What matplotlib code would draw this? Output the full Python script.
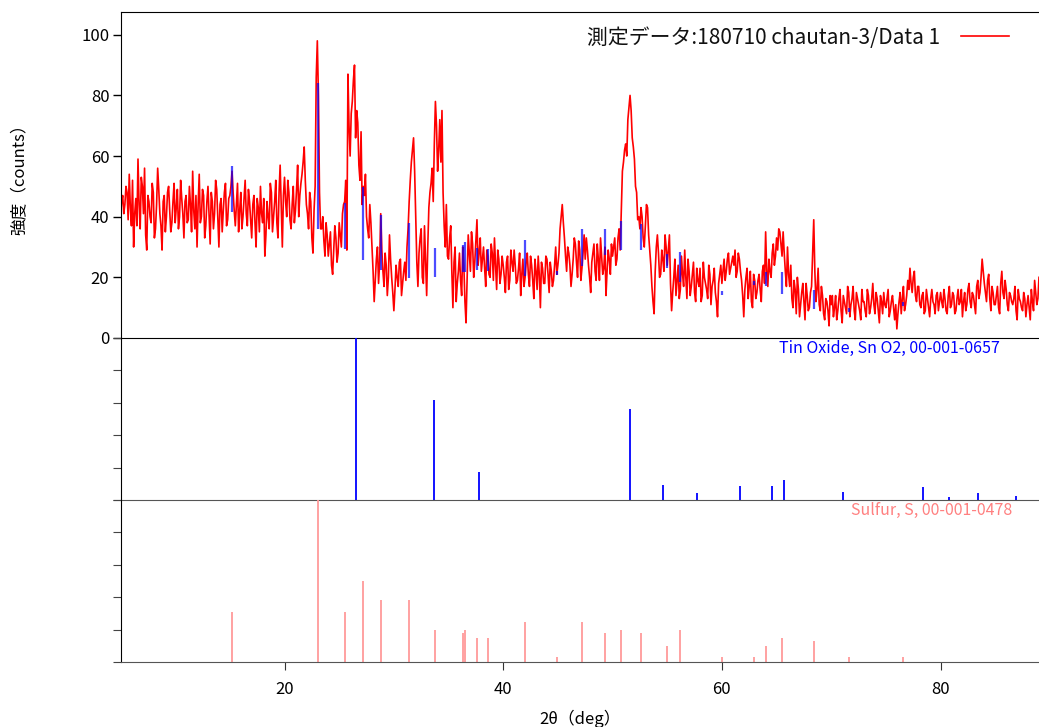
import numpy as np
import matplotlib
matplotlib.use("Agg")
import matplotlib.pyplot as plt

plt.rcParams['font.family'] = ['Noto Sans CJK JP', 'DejaVu Sans']

# ---------------- data ----------------
two_theta_start = 5.0
two_theta_step = 0.1

# intensities at 5.0, 5.2, 5.4, ... 89.0
intensity_even = (
    [40, 47, 44, 48, 54, 37, 30, 46, 59, 36, 50, 56, 29, 45, 38, 48, 36, 56, 41, 29, 47, 40, 50, 35, 45] +
    [38, 49, 40, 46, 33, 47, 39, 44, 55, 36, 30, 54, 40, 47, 37, 50, 31, 45, 41, 49, 30, 46, 42, 51, 39] +
    [47, 55, 42, 44, 35, 48, 40, 52, 37, 45, 33, 47, 30, 43, 50, 38, 27, 45, 36, 48, 40, 52, 33, 57, 30] +
    [53, 40, 48, 36, 50, 42, 57, 47, 54, 63, 44, 36, 45, 28, 50, 98, 48, 36, 32, 38, 27, 35, 21, 37, 25] +
    [38, 30, 44, 52, 87, 60, 78, 90, 75, 57, 68, 50, 54, 36, 44, 30, 12, 26, 18, 41, 22, 28, 14, 34, 20] +
    [9, 24, 17, 26, 18, 25, 30, 45, 58, 66, 40, 17, 33, 20, 37, 14, 43, 51, 45, 78, 55, 72, 75, 37, 44] +
    [26, 37, 10, 30, 18, 28, 14, 24, 5, 34, 22, 31, 25, 39, 28, 22, 30, 17, 27, 20, 28, 33, 16, 26, 21] +
    [24, 15, 27, 19, 25, 29, 18, 23, 14, 26, 20, 28, 17, 24, 13, 22, 27, 10, 23, 18, 26, 15, 22, 19, 30] +
    [24, 36, 44, 33, 22, 28, 17, 26, 31, 20, 29, 23, 34, 33, 24, 15, 28, 22, 31, 19, 27, 23, 14, 29, 21] +
    [27, 33, 26, 36, 42, 58, 64, 72, 80, 66, 59, 48, 40, 43, 33, 37, 43, 29, 17, 8, 30, 28, 21, 26, 34] +
    [24, 34, 9, 20, 14, 24, 16, 21, 29, 13, 22, 17, 25, 12, 19, 23, 14, 20, 16, 24, 11, 19, 15, 7, 21] +
    [18, 26, 22, 28, 23, 27, 29, 22, 26, 19, 7, 20, 13, 22, 10, 19, 15, 21, 12, 24, 35, 17, 22, 28, 24] +
    [33, 36, 31, 35, 22, 30, 17, 13, 19, 8, 16, 11, 18, 6, 14, 10, 17, 39, 12, 23, 9, 14, 6, 12, 4] +
    [11, 7, 14, 9, 16, 5, 12, 8, 15, 11, 17, 6, 13, 9, 16, 12, 7, 14, 10, 18, 8, 13, 5, 12, 15] +
    [10, 16, 9, 14, 6, 3, 12, 8, 17, 11, 19, 23, 15, 22, 12, 17, 10, 15, 9, 13, 7, 16, 11, 14, 9] +
    [15, 10, 13, 8, 17, 11, 14, 9, 16, 12, 7, 15, 11, 18, 10, 14, 8, 19, 15, 26, 18, 12, 21, 9, 15] +
    [11, 17, 8, 22, 13, 16, 9, 14, 11, 17, 6, 13, 10, 15, 7, 14, 6, 12, 19, 11, 20]
)
# intensities at 5.1, 5.3, ... 88.9
intensity_odd = (
    [45, 41, 50, 39, 43, 52, 41, 37, 44, 53, 41, 34, 47, 40, 51, 33, 44, 49, 37, 45, 35, 48, 42, 38, 51] +
    [43, 36, 52, 41, 45, 38, 50, 35, 42, 47, 44, 38, 49, 33, 45, 40, 48, 36, 52, 39, 44, 35, 48, 37, 46] +
    [50, 48, 37, 51, 42, 36, 46, 41, 49, 39, 44, 38, 46, 35, 41, 46, 34, 40, 51, 35, 45, 38, 48, 43, 47] +
    [45, 52, 39, 44, 38, 49, 40, 51, 58, 52, 41, 48, 33, 42, 86, 80, 36, 40, 27, 34, 31, 24, 29, 33, 28] +
    [34, 41, 45, 29, 70, 74, 85, 66, 71, 52, 44, 47, 40, 33, 38, 22, 19, 30, 25, 29, 17, 24, 20, 26, 15] +
    [16, 20, 25, 14, 22, 19, 36, 52, 62, 55, 25, 28, 36, 18, 26, 30, 48, 56, 64, 70, 62, 58, 48, 30, 27] +
    [33, 22, 25, 12, 22, 19, 30, 12, 20, 28, 35, 20, 32, 24, 33, 26, 23, 29, 21, 31, 19, 24, 29, 18, 27] +
    [20, 25, 16, 29, 22, 24, 19, 28, 21, 17, 25, 21, 27, 19, 26, 16, 21, 25, 18, 27, 21, 25, 17, 24, 21] +
    [28, 40, 38, 27, 30, 24, 21, 33, 25, 32, 19, 28, 26, 29, 20, 25, 31, 19, 26, 33, 21, 30, 22, 26, 31] +
    [30, 24, 33, 29, 55, 62, 60, 76, 75, 63, 50, 39, 36, 40, 30, 44, 34, 24, 12, 22, 34, 20, 29, 22, 30] +
    [29, 18, 15, 26, 19, 13, 27, 17, 20, 26, 14, 21, 15, 23, 17, 12, 25, 18, 13, 21, 17, 23, 12, 18, 24] +
    [22, 19, 26, 21, 25, 24, 20, 28, 22, 14, 16, 23, 17, 12, 21, 13, 19, 16, 22, 18, 22, 26, 20, 31, 27] +
    [29, 35, 27, 28, 17, 21, 24, 10, 16, 20, 7, 15, 12, 18, 9, 15, 28, 22, 16, 11, 17, 8, 13, 9, 14] +
    [14, 10, 6, 13, 9, 14, 10, 17, 7, 13, 9, 15, 11, 6, 12, 9, 16, 8, 13, 11, 15, 9, 14, 8, 11] +
    [13, 7, 12, 10, 11, 8, 15, 13, 9, 14, 16, 18, 20, 14, 17, 11, 14, 8, 16, 10, 13, 12, 8, 15, 12] +
    [12, 16, 9, 14, 10, 15, 8, 13, 11, 16, 12, 9, 16, 12, 15, 11, 17, 13, 20, 22, 15, 19, 13, 17, 11] +
    [14, 10, 18, 15, 19, 11, 15, 12, 13, 9, 16, 12, 9, 13, 11, 10, 16, 9, 15, 13]
)

sno2_pos = [26.50, 33.66, 37.81, 51.63, 54.58, 57.69, 61.63, 64.56, 65.72, 71.05, 78.40, 80.80, 83.46, 86.88]
sno2_int = [100, 61.5, 17.4, 56.4, 9, 4.5, 8.6, 8.6, 12.3, 5, 7.8, 1.6, 4.5, 2.5]

sulfur_pos = [15.21, 23.02, 25.49, 27.20, 28.78, 31.43, 33.78, 36.30, 36.51, 37.60, 38.60, 42.02, 44.93,
              47.25, 49.34, 50.80, 52.63, 54.95, 56.14, 60.04, 62.94, 64.07, 65.53, 68.42, 71.66, 76.60]
sulfur_int = [31, 100, 31, 50, 38, 38, 20, 18, 20, 15, 15, 25, 3, 25, 18, 20, 18, 10, 20, 3, 3, 10, 15, 13, 3, 3]
# background level under the peak markers drawn in the data panel
marker_base = [41.7, 36.1, 29.5, 25.7, 22.4, 19.7, 20.0, 21.9, 21.9, 22.4, 22.2, 20.4, 20.8,
               23.8, 27.4, 29.0, 29.0, 23.0, 18.6, 14.2, 17.5, 17.0, 14.5, 9.6, 8.6, 10.5]
marker_scale = 0.48

legend_label = '測定データ:180710 chautan-3/Data 1'
sno2_label = 'Tin Oxide, Sn O2, 00-001-0657'
sulfur_label = 'Sulfur, S, 00-001-0478'
xlabel = '2θ（deg）'
ylabel = '強度（counts）'

# ---------------- plotting ----------------
intensity = np.empty(len(intensity_even) + len(intensity_odd))
intensity[0::2] = intensity_even
intensity[1::2] = intensity_odd
x = two_theta_start + two_theta_step * np.arange(len(intensity))

red = '#ff0000'
blue = '#0000ff'
pink = '#ff9a9a'

fig = plt.figure(figsize=(10.39, 7.27), dpi=100)
W, H = 1039, 727
left = 120.5 / W
width = 1 - left
def yf(py):
    return 1 - py / H

ax1 = fig.add_axes([left, yf(338), width, yf(12) - yf(338)])
ax2 = fig.add_axes([left, yf(500), width, yf(338) - yf(500)], sharex=ax1)
ax3 = fig.add_axes([left, yf(662), width, yf(500) - yf(662)], sharex=ax1)
for a in (ax1, ax2, ax3):
    a.set_facecolor('none')

xmin, xmax = 5.0, 89.0

# data panel
ax1.plot(x, intensity, color=red, lw=1.2, zorder=2, label=legend_label)
tops = [b + s * marker_scale for b, s in zip(marker_base, sulfur_int)]
ax1.vlines(sulfur_pos, marker_base, tops, color=blue, lw=1.6, alpha=0.7, zorder=3)
ax1.set_xlim(xmin, xmax)
ax1.set_ylim(0, 107.5)
ax1.set_yticks([0, 20, 40, 60, 80, 100])
ax1.spines['right'].set_visible(False)
ax1.spines['bottom'].set_zorder(5)
ax1.tick_params(axis='x', which='both', bottom=False, labelbottom=False)
ax1.tick_params(axis='y', direction='out', length=6, width=1, labelsize=12, pad=2)
ax1.set_ylabel(ylabel, fontsize=12, labelpad=38)
leg = ax1.legend(loc='upper right', markerfirst=False, frameon=False, fontsize=15,
                 handlelength=2.3, handletextpad=1.0, borderaxespad=0.3,
                 bbox_to_anchor=(0.983, 1.0))
for t in leg.get_texts():
    t.set_color('#111111')

# SnO2 panel
ax2.vlines(sno2_pos, 0, sno2_int, color=blue, lw=1.3)
ax2.set_ylim(0, 100)
ax2.set_yticks([0, 20, 40, 60, 80, 100])
ax2.tick_params(axis='y', direction='out', length=6, color='#444444', labelleft=False)
ax2.tick_params(axis='x', which='both', bottom=False, labelbottom=False)
ax2.spines['right'].set_visible(False)
ax2.spines['top'].set_visible(False)
ax2.spines['bottom'].set_color('#555555')
ax2.text(0.9575, 0.985, sno2_label, transform=ax2.transAxes, ha='right', va='top',
         color=blue, fontsize=11.5)

# Sulfur panel
ax3.vlines(sulfur_pos, 0, sulfur_int, color=pink, lw=1.3)
ax3.set_ylim(0, 100)
ax3.set_yticks([0, 20, 40, 60, 80, 100])
ax3.tick_params(axis='y', direction='out', length=6, color='#444444', labelleft=False)
ax3.spines['right'].set_visible(False)
ax3.spines['top'].set_visible(False)
ax3.spines['bottom'].set_color('#555555')
ax3.set_xticks([20, 40, 60, 80])
ax3.tick_params(axis='x', direction='out', length=6, color='#333333', labelsize=12, pad=8)
ax3.set_xlabel(xlabel, fontsize=12, labelpad=8)
ax3.text(0.9706, 0.985, sulfur_label, transform=ax3.transAxes, ha='right', va='top',
         color='#ff8080', fontsize=11.5, zorder=5)

fig.savefig('out.png', dpi=100)
